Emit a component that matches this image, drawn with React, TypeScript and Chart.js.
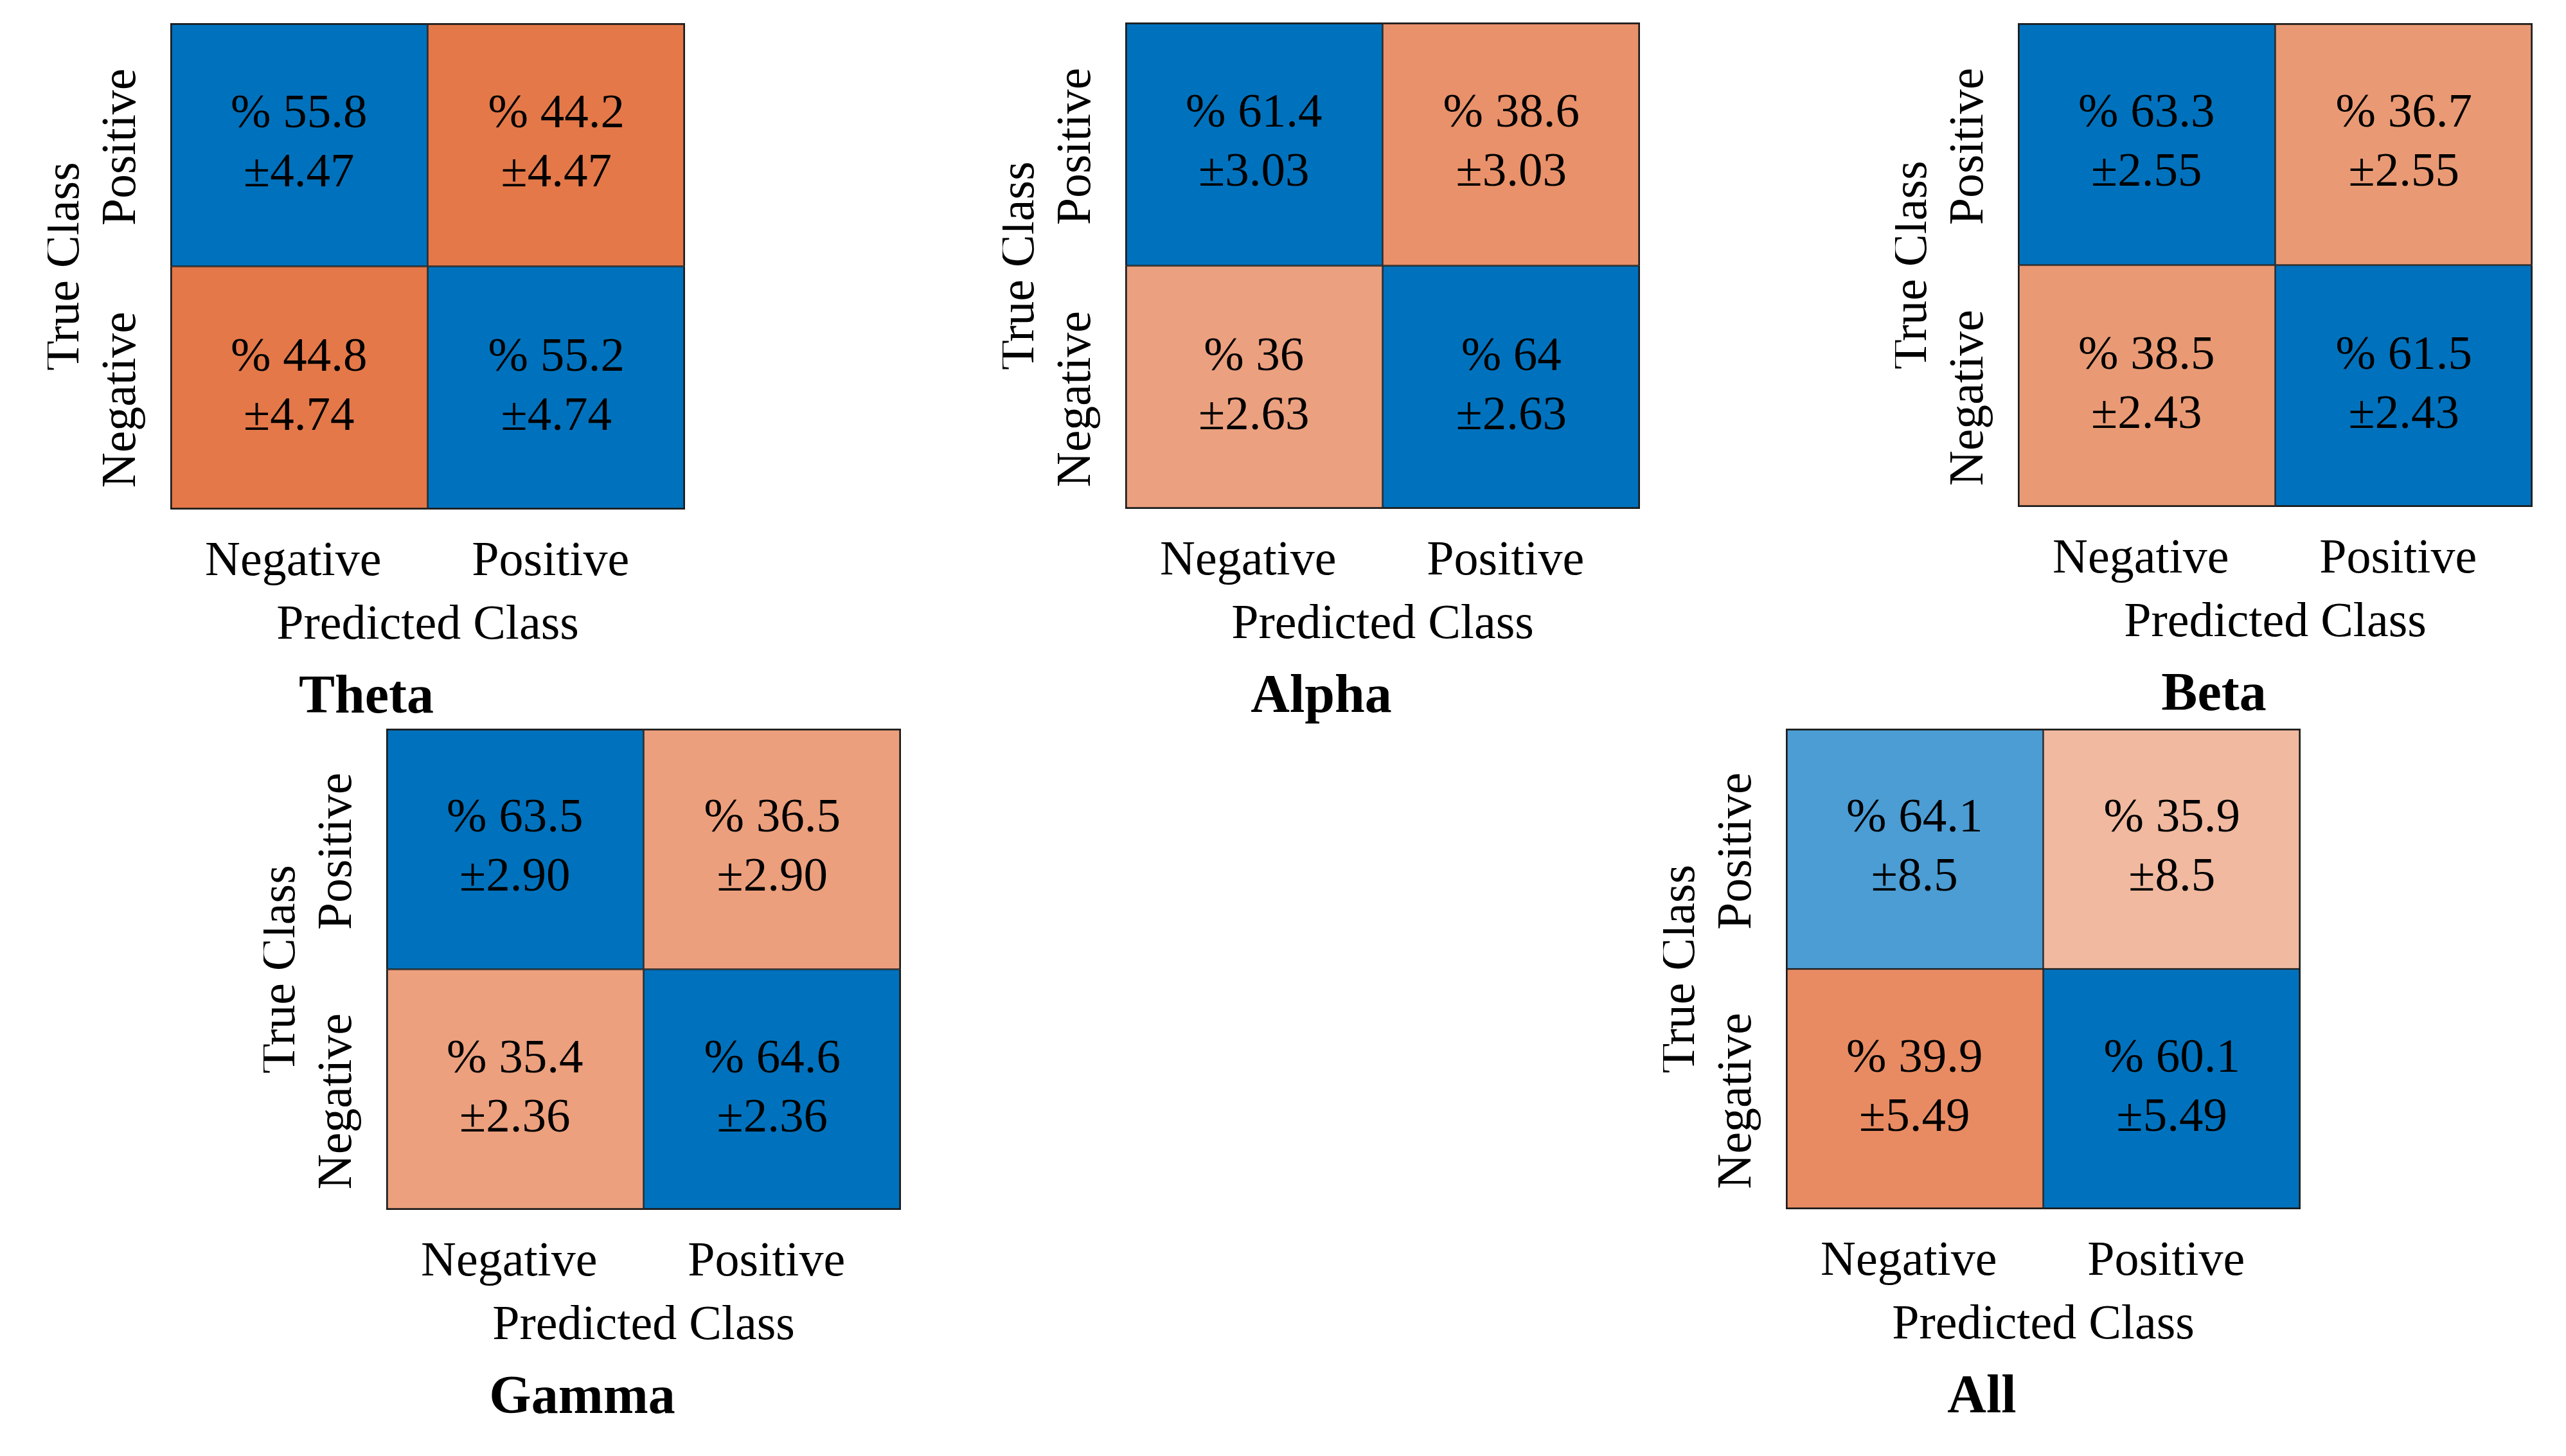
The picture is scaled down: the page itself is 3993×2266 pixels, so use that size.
import React, { useEffect, useRef } from 'react';
import { Chart, registerables } from 'chart.js';

Chart.register(...registerables);

const FAMILY = '"Liberation Serif", "Times New Roman", Times, serif';
Chart.defaults.font.family = FAMILY;

// ---- data ----
const panelNames = ['Theta', 'Alpha', 'Beta', 'Gamma', 'All'];
const predictedClasses = ['Negative', 'Positive'];
const trueClassesTopToBottom = ['Positive', 'Negative'];
const axisTitleX = 'Predicted Class';
const axisTitleY = 'True Class';

// rows: true Positive (top), true Negative (bottom); cols: predicted Negative, Positive
const thetaPct = [[55.8, 44.2], [44.8, 55.2]];
const thetaStd = [['4.47', '4.47'], ['4.74', '4.74']];
const alphaPct = [[61.4, 38.6], [36, 64]];
const alphaStd = [['3.03', '3.03'], ['2.63', '2.63']];
const betaPct = [[63.3, 36.7], [38.5, 61.5]];
const betaStd = [['2.55', '2.55'], ['2.43', '2.43']];
const gammaPct = [[63.5, 36.5], [35.4, 64.6]];
const gammaStd = [['2.90', '2.90'], ['2.36', '2.36']];
const allPct = [[64.1, 35.9], [39.9, 60.1]];
const allStd = [['8.5', '8.5'], ['5.49', '5.49']];

// ---- styles ----
const BLUE = '#0072BD';
const thetaColors = [[BLUE, '#E47849'], ['#E47849', BLUE]];
const alphaColors = [[BLUE, '#E9916A'], ['#EBA07F', BLUE]];
const betaColors = [[BLUE, '#E99A74'], ['#E99A74', BLUE]];
const gammaColors = [[BLUE, '#EC9F7D'], ['#ECA07E', BLUE]];
const allColors = [['#4B9DD4', '#F0B9A0'], ['#E88B62', BLUE]];

// layout (page pixels) of each matrix: left, top, height
const layoutSpecs = [
  { matL: 265, matT: 36, matH: 757 },
  { matL: 1751, matT: 35, matH: 757 },
  { matL: 3140, matT: 36, matH: 753 },
  { matL: 601, matT: 1134, matH: 749 },
  { matL: 2779, matT: 1134, matH: 748 },
];

const pctSets = [thetaPct, alphaPct, betaPct, gammaPct, allPct];
const stdSets = [thetaStd, alphaStd, betaStd, gammaStd, allStd];
const colorSets = [thetaColors, alphaColors, betaColors, gammaColors, allColors];

const Y_AXIS_W = 191;
const MAT_W = 801;
const PAD_R = 40;
const PAD_T = 36;
const X_AXIS_H = 230;
const TITLE_SIZE = 84;
const TITLE_LH = 1.2;
const TITLE_PAD_T = 14;
const CANVAS_W = Y_AXIS_W + MAT_W + PAD_R;
const CANVAS_H = 1160;

const measureCtx = (() => {
  const c = document.createElement('canvas');
  const ctx = c.getContext('2d')!;
  ctx.font = `76px ${FAMILY}`;
  return ctx;
})();
const Y_LABEL_OFFSET =
  -(measureCtx.measureText('Positive').width + measureCtx.measureText('Negative').width) / 4 + 11;

const cellTextPlugin = {
  id: 'cellText',
  afterDatasetsDraw(chart: any) {
    const ctx = chart.ctx;
    ctx.save();
    ctx.fillStyle = '#000';
    ctx.font = `75px ${FAMILY}`;
    ctx.textAlign = 'center';
    ctx.textBaseline = 'alphabetic';
    chart.data.datasets.forEach((ds: any, i: number) => {
      const meta = chart.getDatasetMeta(i);
      meta.data.forEach((el: any, j: number) => {
        const { x, y, base } = el.getProps(['x', 'y', 'base'], true);
        const cy = (y + base) / 2;
        ctx.fillText(`% ${ds.pct[j]}`, x, cy - 27);
        ctx.fillText(`\u00B1${ds.std[j]}`, x, cy + 65);
      });
    });
    ctx.restore();
  },
};

function buildConfig(idx: number): any {
  const pct = pctSets[idx];
  const std = stdSets[idx];
  const colors = colorSets[idx];
  const { matH } = layoutSpecs[idx];
  const padBottom = CANVAS_H - PAD_T - matH - X_AXIS_H - TITLE_SIZE * TITLE_LH - TITLE_PAD_T;
  // stacked from bottom: dataset 0 = bottom row (true Negative), dataset 1 = top row (true Positive)
  const rowOrder = [1, 0];
  const datasets = rowOrder.map((r) => ({
    label: trueClassesTopToBottom[r],
    data: predictedClasses.map(() => 1),
    pct: pct[r],
    std: std[r],
    backgroundColor: colors[r],
    borderColor: '#1c1c1c',
    borderWidth: predictedClasses.map((_, c) => ({
      top: r === 0 ? 3 : 1.5,
      bottom: r === 1 ? 3 : 1.5,
      left: c === 0 ? 3 : 1.5,
      right: c === 1 ? 3 : 1.5,
    })),
    borderSkipped: false,
    barPercentage: 1,
    categoryPercentage: 1,
  }));
  return {
    type: 'bar',
    data: { labels: predictedClasses, datasets },
    plugins: [cellTextPlugin],
    options: {
      animation: false,
      responsive: false,
      events: [],
      layout: { padding: { left: 0, top: PAD_T, right: PAD_R, bottom: padBottom } },
      plugins: {
        legend: { display: false },
        tooltip: { enabled: false },
        title: {
          display: true,
          text: panelNames[idx],
          position: 'bottom',
          color: '#000',
          font: { family: FAMILY, size: TITLE_SIZE, weight: 'bold', lineHeight: TITLE_LH },
          padding: { top: TITLE_PAD_T, bottom: 0 },
        },
      },
      scales: {
        x: {
          type: 'category',
          stacked: true,
          offset: true,
          grid: { display: false, drawTicks: false },
          border: { display: false },
          ticks: {
            color: '#000',
            font: { family: FAMILY, size: 76, lineHeight: 1.2 },
            padding: 36,
            maxRotation: 0,
            autoSkip: false,
            labelOffset: -9,
          },
          title: {
            display: true,
            text: axisTitleX,
            color: '#000',
            font: { family: FAMILY, size: 76, lineHeight: 1.2 },
            padding: { top: 0, bottom: 3 },
          },
          afterFit: (s: any) => {
            s.height = X_AXIS_H;
          },
        },
        y: {
          type: 'linear',
          min: 0,
          max: 2,
          stacked: true,
          grid: { display: true, color: 'rgba(0,0,0,0)', drawOnChartArea: false, drawTicks: true, tickLength: 75 },
          border: { display: false },
          afterBuildTicks: (s: any) => {
            s.ticks = [{ value: 0.5 }, { value: 1.5 }];
          },
          ticks: {
            color: '#000',
            font: { family: FAMILY, size: 76, lineHeight: 0.8 },
            padding: 0,
            minRotation: 90,
            maxRotation: 90,
            autoSkip: false,
            callback: (v: number) => (v < 1 ? trueClassesTopToBottom[1] : trueClassesTopToBottom[0]),
            labelOffset: Y_LABEL_OFFSET,
          },
          title: {
            display: true,
            text: axisTitleY,
            color: '#000',
            font: { family: FAMILY, size: 76, lineHeight: 1 },
            padding: { top: -10, bottom: 0 },
          },
          afterFit: (s: any) => {
            s.width = Y_AXIS_W;
          },
        },
      },
    },
  };
}

function Panel({ idx }: { idx: number }) {
  const ref = useRef<HTMLCanvasElement>(null);
  useEffect(() => {
    const chart = new Chart(ref.current!, buildConfig(idx));
    return () => chart.destroy();
  }, [idx]);
  const { matL, matT } = layoutSpecs[idx];
  return (
    <canvas
      ref={ref}
      width={CANVAS_W}
      height={CANVAS_H}
      style={{
        position: 'absolute',
        left: matL - Y_AXIS_W,
        top: matT - PAD_T,
        width: CANVAS_W,
        height: CANVAS_H,
      }}
    />
  );
}

export default function App() {
  return (
    <div
      style={{
        position: 'absolute',
        left: 0,
        top: 0,
        width: 3993,
        height: 2266,
        background: '#fff',
        overflow: 'hidden',
      }}
    >
      {panelNames.map((_, i) => (
        <Panel key={i} idx={i} />
      ))}
    </div>
  );
}
